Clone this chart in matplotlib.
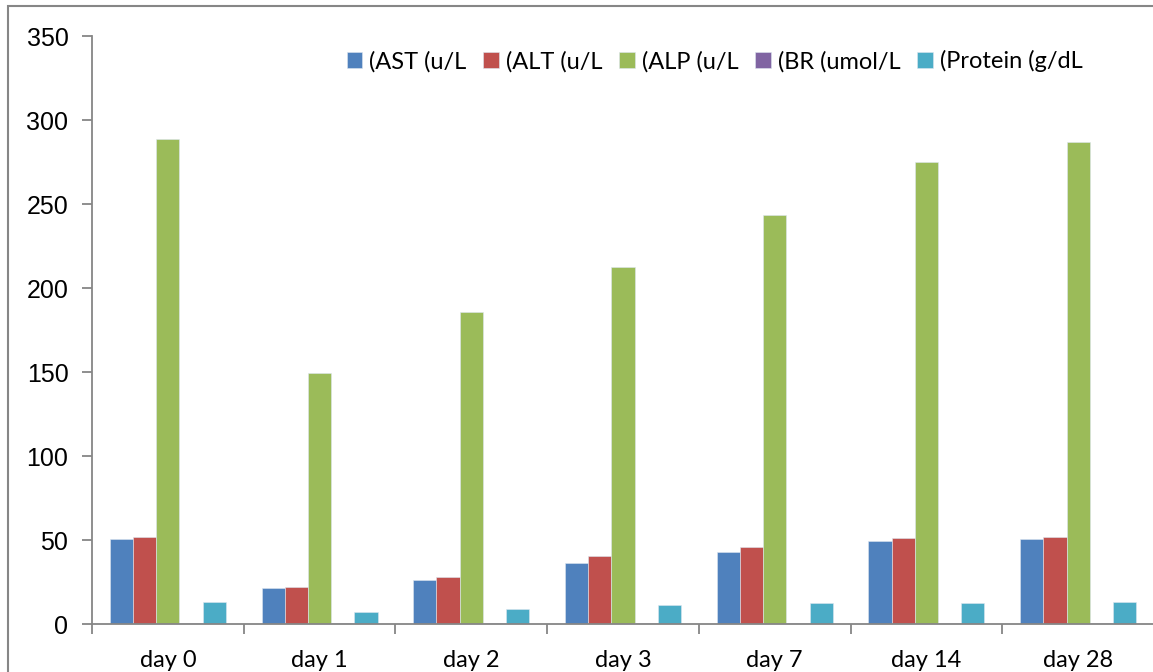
import matplotlib.pyplot as plt
import numpy as np
from matplotlib.patches import Rectangle

days = ['day 0', 'day 1', 'day 2', 'day 3', 'day 7', 'day 14', 'day 28']
series_names = ['(AST (u/L', '(ALT (u/L', '(ALP (u/L', '(BR (umol/L', '(Protein (g/dL']
ast = [50.3, 21.2, 26.0, 36.1, 42.6, 49.3, 50.7]
alt = [51.9, 21.8, 27.7, 40.4, 45.9, 51.1, 51.7]
alp = [288.8, 149.7, 186.0, 212.7, 243.2, 275.0, 286.9]
br = [0.5, 0.4, 0.4, 0.5, 0.5, 0.5, 0.5]
protein = [12.9, 7.1, 8.7, 11.3, 12.3, 12.3, 13.1]
colors = ['#4F81BD', '#C0504D', '#9BBB59', '#8064A2', '#4BACC6']

fig = plt.figure(figsize=(11.53, 6.72), dpi=100)
ax = fig.add_axes([92 / 1153, 1 - 624 / 672, 1062 / 1153, 588 / 672])

x = np.arange(len(days))
w = 0.153
for i, (vals, name, c) in enumerate(zip([ast, alt, alp, br, protein], series_names, colors)):
    ax.bar(x + (i - 2) * w, vals, w, color=c, label=name, edgecolor='#dde6f0', linewidth=0.4)

ax.set_xlim(-0.5, len(days) - 0.5)
ax.set_ylim(0, 350)
ax.set_yticks(range(0, 351, 50))

grey = '#868686'
for s in ['top', 'right']:
    ax.spines[s].set_visible(False)
for s in ['left', 'bottom']:
    ax.spines[s].set_color(grey)
    ax.spines[s].set_linewidth(1.3)

ax.tick_params(axis='y', direction='out', length=7, width=1.3, color=grey, pad=10,
               labelsize=18, labelfontfamily='Liberation Sans')
ax.set_xticks(x)
ax.set_xticklabels(days, fontsize=17, fontfamily='Lato')
ax.tick_params(axis='x', which='major', length=0, pad=19)
ax.set_xticks(np.arange(-0.5, len(days) + 0.5, 1), minor=True)
ax.tick_params(axis='x', which='minor', direction='out', length=7, width=1.3, color=grey)

ax.legend(loc='upper right', bbox_to_anchor=(0.946, 1.0), ncol=5, frameon=False,
          prop={'family': 'Lato', 'size': 17}, handlelength=0.65, handleheight=0.65,
          handletextpad=0.3, columnspacing=0.72, borderaxespad=0.2)

# outer chart frame
fig.patches.append(Rectangle((8 / 1153, -0.1), 1.2, 1 - 6 / 672 + 0.1, transform=fig.transFigure,
                             fill=False, edgecolor=grey, linewidth=1.5))

fig.savefig('out.png', dpi=100)
